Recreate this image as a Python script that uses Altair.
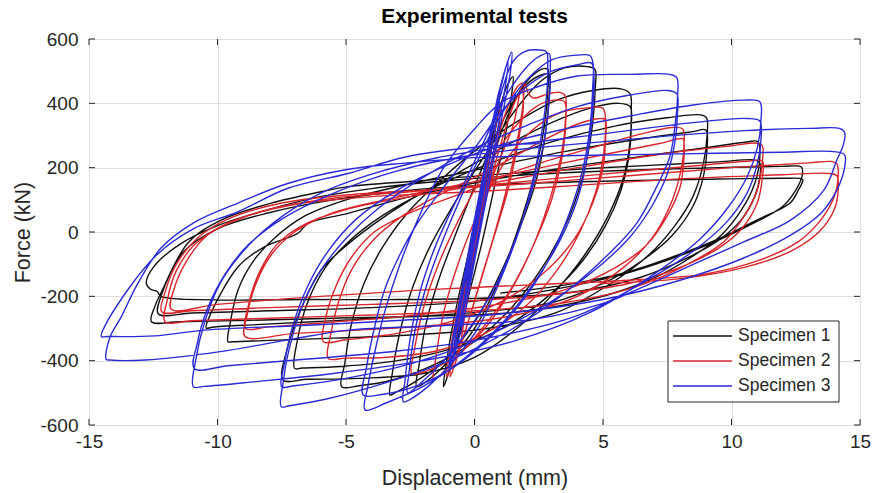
import altair as alt
import pandas as pd

FONT = "Liberation Sans, Arial, Helvetica, sans-serif"
INK = "#262626"

series_names = ["Specimen 1", "Specimen 2", "Specimen 3"]
series_colors = ["#111111", "#d9262b", "#2b2bd6"]

x_ticks = [-15, -10, -5, 0, 5, 10, 15]
y_ticks = [-600, -400, -200, 0, 200, 400, 600]

# Loading history of each specimen: (displacement mm, force kN), in test order
specimen_1 = [
    (0.0, 0), (0.2, 90), (0.45, 220), (0.5, 250), (0.4, 190), (0.1, 40), (-0.1, -60), (-0.3, -180), (-0.25, -140), (0.0, -30),
    (0.3, 120), (0.7, 320), (0.95, 410), (0.9, 360), (0.5, 190), (0.1, 20), (-0.3, -160), (-0.7, -350), (-0.65, -300), (-0.3, -130),
    # 1.5 mm
    (0.1, 50), (0.6, 260), (1.0, 390), (1.3, 460), (1.5, 483),
    (1.45, 430), (1.2, 300), (0.8, 150), (0.3, -30), (-0.3, -220), (-0.8, -380), (-1.1, -460), (-1.21, -481),
    # 2.9 mm
    (-1.1, -410), (-0.8, -270), (-0.3, -90), (0.3, 110), (1.0, 300), (1.7, 430), (2.3, 490), (2.7, 508), (2.86, 505),
    (2.85, 440), (2.7, 320), (2.3, 170), (1.7, 10), (0.9, -160), (0.0, -300), (-1.0, -400), (-1.8, -460), (-2.25, -481),
    (-2.15, -410), (-1.9, -290), (-1.4, -150), (-0.7, 0), (0.2, 180), (1.0, 330), (1.8, 440), (2.5, 485), (2.9, 490),
    (2.9, 420), (2.75, 300), (2.4, 160), (1.8, 20), (1.0, -130), (0.0, -280), (-1.2, -400), (-2.4, -470), (-3.1, -500), (-3.29, -507),
    # 4.7 mm
    (-3.2, -440), (-2.9, -310), (-2.4, -170), (-1.7, -40), (-0.7, 100), (0.5, 250), (1.6, 380), (2.6, 470), (3.5, 510), (4.4, 514), (4.69, 505),
    (4.7, 450), (4.6, 340), (4.3, 200), (3.7, 50), (2.8, -90), (1.5, -230), (0.0, -340), (-1.5, -410), (-3.2, -460), (-4.5, -478), (-5.17, -481),
    # 6.1 mm
    (-5.05, -410), (-4.8, -290), (-4.3, -160), (-3.6, -50), (-2.6, 60), (-1.2, 170), (0.3, 270), (1.8, 350), (3.2, 410), (4.6, 440), (5.7, 445), (6.05, 430),
    (6.1, 380), (6.05, 280), (5.8, 170), (5.2, 50), (4.3, -70), (3.2, -180), (1.8, -290), (0.0, -390), (-2.0, -440), (-4.5, -455), (-6.5, -458), (-7.45, -460),
    (-7.3, -367), (-6.6, -211), (-5.97, -118), (-5.19, -56), (-4.0, 20), (-2.5, 100), (-0.5, 190), (1.5, 280), (3.0, 340), (4.5, 385), (5.6, 400), (6.05, 390),
    (6.1, 330), (6.0, 230), (5.7, 130), (5.1, 20), (4.2, -90), (3.0, -190), (1.3, -290), (-0.8, -360), (-3.0, -400), (-5.2, -418), (-6.7, -423), (-7.0, -424),
    # 9 mm
    (-6.9, -340), (-6.5, -220), (-5.8, -110), (-4.9, -30), (-3.6, 50), (-1.8, 130), (0.5, 210), (3.0, 280), (5.5, 330), (7.5, 355), (8.8, 364), (9.03, 355),
    (9.05, 300), (8.9, 210), (8.5, 110), (7.8, 20), (6.8, -70), (5.3, -160), (3.2, -250), (0.5, -300), (-2.5, -320), (-5.5, -330), (-8.0, -337), (-9.4, -341), (-9.59, -341),
    (-9.5, -280), (-9.2, -180), (-8.6, -90), (-7.8, -20), (-6.6, 50), (-5.0, 100), (-2.5, 150), (0.5, 200), (3.5, 250), (6.5, 290), (8.5, 312), (9.0, 317),
    (9.05, 260), (8.9, 170), (8.5, 80), (7.7, -10), (6.5, -90), (5.0, -160), (3.0, -220), (0.0, -250), (-3.0, -265), (-6.0, -278), (-8.5, -288), (-10.2, -296), (-10.44, -299),
    # 11 mm
    (-10.37, -274), (-9.2, -108), (-8.17, -46), (-6.87, -4), (-6.48, 27), (-4.92, 58), (-2.5, 110), (0.5, 160), (3.5, 200), (6.5, 235), (9.0, 262), (10.6, 280), (11.03, 281),
    (11.1, 230), (10.9, 150), (10.4, 70), (9.6, -10), (8.4, -80), (6.8, -150), (4.5, -210), (1.5, -250), (-2.0, -262), (-5.5, -268), (-9.0, -275), (-11.5, -279), (-12.57, -279),
    (-12.44, -232), (-12.2, -190), (-11.15, -34), (-9.86, 37), (-7.9, 90), (-5.97, 125), (-4.92, 141), (-2.0, 160), (1.0, 180), (4.0, 195), (7.0, 208), (9.5, 218), (10.9, 224), (11.1, 215),
    (11.1, 170), (10.9, 110), (10.4, 40), (9.6, -20), (8.3, -80), (6.5, -140), (4.0, -185), (0.5, -205), (-3.0, -210), (-6.5, -210), (-10.0, -211), (-12.2, -200), (-12.35, -185), (-12.6, -178), (-12.77, -160),
    # 12.7 mm
    (-12.5, -110), (-11.5, -40), (-10.0, 20), (-8.0, 70), (-6.0, 110), (-4.0, 135), (-1.0, 160), (2.5, 180), (6.0, 192), (9.5, 200), (12.0, 204), (12.6, 205), (12.73, 201),
    (12.75, 175), (12.5, 130), (12.0, 80), (10.8, 25), (9.5, -25), (7.6, -85), (5.6, -135), (3.0, -180), (0.0, -215), (-4.0, -235), (-8.0, -245), (-11.0, -252), (-12.3, -255),
    (-12.2, -200), (-11.3, -60), (-10.0, 10), (-8.0, 60), (-5.5, 100), (-2.5, 130), (1.0, 148), (5.0, 158), (9.0, 164), (12.0, 167), (12.7, 166), (12.78, 162),
    (12.6, 130), (12.28, 90), (10.98, 37), (9.67, -15), (7.72, -77), (5.78, -128), (3.5, -165), (1.0, -190),
]

specimen_2 = [
    (0.0, 0), (0.25, 110), (0.5, 250), (0.45, 200), (0.2, 60), (-0.1, -80), (-0.3, -200), (-0.25, -150), (0.0, -40),
    (0.4, 150), (0.8, 320), (1.0, 380), (0.95, 330), (0.6, 180), (0.2, 20), (-0.2, -150), (-0.5, -330), (-0.45, -280), (-0.1, -110),
    # 1.9 mm
    (0.4, 120), (0.9, 290), (1.4, 410), (1.7, 455), (1.9, 463),
    (1.9, 410), (1.7, 300), (1.3, 150), (0.8, 0), (0.2, -160), (-0.4, -320), (-0.8, -420), (-0.95, -450),
    (-0.85, -380), (-0.5, -230), (0.0, -50), (0.6, 150), (1.2, 320), (1.6, 410), (1.85, 440),
    (1.9, 390), (1.7, 280), (1.3, 130), (0.7, -30), (0.1, -190), (-0.5, -340), (-0.9, -420), (-1.08, -450),
    # 3.5 mm
    (-0.95, -370), (-0.6, -220), (0.0, -20), (0.7, 170), (1.5, 330), (1.85, 455), (1.95, 462), (2.1, 430), (2.3, 416), (2.8, 428), (3.3, 434), (3.52, 425),
    (3.55, 360), (3.4, 250), (3.0, 120), (2.4, -20), (1.5, -170), (0.4, -300), (-0.8, -390), (-1.8, -430), (-2.44, -440),
    (-2.35, -370), (-2.0, -240), (-1.4, -100), (-0.6, 40), (0.5, 200), (1.5, 320), (2.4, 390), (3.1, 410), (3.5, 405),
    (3.55, 340), (3.4, 230), (3.0, 100), (2.3, -40), (1.4, -180), (0.2, -310), (-0.8, -400), (-1.4, -450), (-1.6, -460),
    # 5.1 mm
    (-1.5, -390), (-1.2, -250), (-0.6, -90), (0.2, 70), (1.2, 220), (2.3, 320), (3.3, 370), (4.3, 385), (5.0, 384),
    (5.1, 330), (5.0, 230), (4.7, 120), (4.1, 0), (3.2, -120), (2.0, -230), (0.3, -320), (-1.5, -370), (-3.5, -390), (-5.0, -392), (-5.69, -393),
    (-5.6, -320), (-5.3, -220), (-4.8, -120), (-4.0, -30), (-2.8, 50), (-1.0, 130), (1.0, 210), (2.8, 290), (4.0, 335), (4.8, 352), (5.08, 350),
    (5.1, 290), (5.0, 200), (4.6, 90), (3.9, -20), (2.8, -120), (1.2, -210), (-1.0, -280), (-3.0, -315), (-5.0, -335), (-5.88, -341),
    # 8.1 mm
    (-5.8, -270), (-5.4, -170), (-4.8, -80), (-3.9, 0), (-2.5, 60), (-0.5, 120), (2.0, 200), (4.5, 260), (6.5, 305), (7.7, 325), (8.1, 320),
    (8.15, 270), (8.0, 180), (7.6, 80), (6.9, -20), (5.8, -110), (4.0, -200), (1.5, -260), (-1.5, -290), (-4.5, -305), (-7.0, -315), (-8.93, -325),
    (-8.85, -260), (-8.5, -160), (-7.9, -70), (-7.0, 0), (-5.5, 60), (-3.5, 100), (-1.0, 140), (2.0, 190), (5.0, 240), (7.2, 275), (8.1, 290), (8.15, 280),
    (8.15, 230), (8.0, 140), (7.5, 50), (6.7, -40), (5.5, -110), (3.5, -180), (0.5, -230), (-2.5, -260), (-5.5, -280), (-8.0, -295), (-8.9, -300),
    # 11.2 mm
    (-8.8, -230), (-8.4, -130), (-7.7, -40), (-6.7, 20), (-5.0, 70), (-2.5, 110), (0.5, 150), (4.0, 200), (7.5, 245), (10.0, 268), (11.0, 276), (11.2, 268),
    (11.2, 220), (11.0, 130), (10.5, 50), (9.7, -30), (8.3, -100), (6.3, -170), (3.5, -220), (0.0, -245), (-4.0, -258), (-8.0, -268), (-11.0, -276), (-12.04, -279),
    (-11.95, -210), (-11.6, -120), (-10.9, -40), (-9.8, 20), (-8.0, 70), (-5.5, 105), (-2.5, 125), (1.0, 150), (5.0, 180), (8.5, 205), (10.6, 220), (11.2, 220),
    (11.2, 170), (11.0, 90), (10.4, 10), (9.5, -50), (8.0, -110), (6.0, -160), (3.0, -195), (-0.5, -215), (-4.0, -225), (-8.0, -235), (-11.0, -245), (-12.17, -248),
    # 14.1 mm
    (-12.05, -190), (-11.6, -100), (-10.8, -20), (-9.6, 40), (-7.5, 90), (-5.0, 115), (-2.0, 130), (2.0, 150), (6.0, 175), (10.0, 200), (13.0, 215), (13.9, 219), (14.1, 212),
    (14.15, 170), (14.0, 110), (13.5, 40), (12.6, -30), (11.0, -90), (9.0, -130), (6.0, -150), (2.0, -165), (-2.0, -180), (-6.0, -200), (-10.0, -225), (-11.8, -240),
    (-11.7, -180), (-11.2, -90), (-10.4, -10), (-9.0, 45), (-7.0, 85), (-4.0, 110), (0.0, 125), (4.0, 145), (8.0, 165), (12.0, 178), (13.8, 182), (14.1, 175),
    (14.15, 130), (14.0, 70), (13.4, 0), (12.3, -60), (10.5, -110), (8.0, -145), (5.0, -160),
]

specimen_3 = [
    (0.0, 0), (0.15, 60), (0.3, 150), (0.4, 200), (0.35, 140), (0.1, 20), (-0.1, -60), (-0.3, -150), (-0.25, -100), (0.0, -20),
    (0.2, 80), (0.45, 230), (0.7, 350), (0.65, 300), (0.4, 180), (0.1, 40), (-0.2, -100), (-0.5, -290), (-0.45, -250), (-0.2, -130),
    (0.1, 20), (0.5, 230), (0.8, 380), (1.0, 450), (0.95, 400), (0.6, 230), (0.3, 100), (-0.1, -80), (-0.5, -250), (-0.8, -380), (-0.75, -330), (-0.4, -170),
    (0.0, 10), (0.5, 250), (1.0, 440), (1.3, 530), (1.25, 480), (0.9, 320), (0.5, 150), (0.0, -70), (-0.5, -270), (-0.95, -410), (-0.9, -370), (-0.5, -200),
    (0.1, 60), (0.6, 300), (1.1, 480), (1.45, 560), (1.4, 500), (1.0, 330), (0.5, 120), (0.0, -90), (-0.5, -300), (-1.0, -430),
    # 2.8 mm
    (-0.9, -360), (-0.5, -180), (0.0, 40), (0.5, 240), (1.0, 420), (1.5, 530), (2.0, 562), (2.5, 566), (2.8, 560),
    (2.85, 520), (2.8, 420), (2.6, 300), (2.3, 170), (1.8, 20), (1.0, -150), (0.2, -290), (-0.8, -400), (-1.8, -480), (-2.5, -520), (-2.77, -528),
    (-2.7, -460), (-2.5, -330), (-2.1, -180), (-1.5, -40), (-0.7, 100), (0.3, 270), (1.2, 420), (2.0, 510), (2.5, 545), (2.9, 555),
    (2.95, 510), (2.9, 400), (2.7, 280), (2.3, 150), (1.7, 0), (0.8, -170), (-0.2, -300), (-1.2, -400), (-2.1, -470), (-2.6, -500),
    # 4.6 mm
    (-2.55, -440), (-2.3, -300), (-1.8, -150), (-1.0, 20), (0.0, 200), (1.0, 360), (2.0, 470), (3.0, 535), (4.0, 550), (4.5, 548), (4.62, 520),
    (4.6, 450), (4.5, 330), (4.2, 190), (3.7, 60), (3.0, -70), (2.0, -200), (0.7, -320), (-0.8, -420), (-2.3, -480), (-3.6, -505), (-4.33, -507),
    (-4.2, -420), (-3.9, -300), (-3.5, -180), (-2.9, -70), (-2.2, 30), (-1.0, 160), (0.0, 260), (1.0, 370), (2.0, 450), (3.0, 500), (4.0, 520), (4.55, 525),
    (4.65, 480), (4.6, 380), (4.4, 240), (4.0, 100), (3.3, -30), (2.3, -160), (1.0, -290), (-0.5, -400), (-2.0, -480), (-3.4, -530), (-4.26, -553),
    # 7.9 mm
    (-4.15, -480), (-3.9, -380), (-3.5, -250), (-2.9, -100), (-2.2, 40), (-1.2, 200), (0.0, 320), (1.0, 400), (2.4, 450), (4.0, 485), (6.0, 490), (7.6, 490), (7.87, 480),
    (7.9, 420), (7.8, 330), (7.6, 234), (7.09, 141), (6.31, 27), (5.2, -70), (3.5, -190), (1.5, -300), (-1.0, -400), (-3.5, -470), (-5.8, -520), (-7.2, -540), (-7.52, -543),
    (-7.45, -470), (-7.2, -360), (-6.6, -210), (-5.9, -110), (-5.0, -20), (-3.8, 70), (-2.0, 170), (0.0, 260), (2.0, 330), (4.0, 390), (6.0, 425), (7.5, 440), (7.87, 430),
    (7.9, 370), (7.8, 280), (7.5, 180), (6.9, 80), (6.0, -20), (4.5, -130), (2.5, -240), (0.0, -340), (-2.5, -410), (-5.0, -455), (-7.0, -478), (-7.5, -481),
    # 11.1 mm
    (-7.4, -410), (-7.1, -300), (-6.5, -170), (-5.7, -60), (-4.6, 40), (-3.0, 130), (-1.0, 210), (1.0, 270), (3.5, 320), (6.0, 360), (8.5, 395), (10.5, 410), (11.1, 405),
    (11.15, 350), (11.0, 260), (10.6, 170), (9.9, 80), (8.8, -20), (7.0, -130), (4.5, -250), (1.5, -340), (-2.0, -400), (-5.5, -440), (-8.5, -465), (-10.5, -480), (-10.94, -481),
    (-10.85, -400), (-10.5, -280), (-9.9, -160), (-9.0, -60), (-7.8, 30), (-6.0, 120), (-4.0, 180), (-1.5, 230), (1.5, 270), (5.0, 305), (8.5, 340), (10.6, 353), (11.1, 345),
    (11.15, 290), (11.0, 210), (10.6, 120), (9.8, 30), (8.5, -60), (6.5, -160), (4.0, -260), (0.5, -330), (-3.0, -370), (-6.5, -395), (-9.5, -415), (-10.9, -424),
    # 14.4 mm
    (-10.8, -350), (-10.4, -240), (-9.7, -130), (-8.8, -40), (-7.5, 40), (-5.5, 120), (-3.0, 190), (0.0, 240), (3.5, 270), (7.0, 295), (10.5, 315), (13.0, 322), (14.2, 322), (14.4, 310),
    (14.35, 270), (14.1, 224), (13.6, 131), (12.3, 37), (10.5, -30), (8.9, -87), (6.3, -180), (5.0, -222), (2.4, -270), (-1.0, -290), (-4.9, -305), (-7.3, -336), (-9.9, -372), (-12.8, -398), (-14.2, -398), (-14.33, -396),
    (-14.2, -330), (-13.74, -263), (-13.1, -160), (-12.2, -50), (-10.9, 30), (-9.2, 90), (-7.3, 150), (-4.9, 195), (-2.6, 215), (0.2, 232), (4.0, 238), (8.0, 243), (12.0, 248), (14.0, 250), (14.4, 240),
    (14.4, 200), (14.1, 130), (13.5, 60), (12.3, -10), (10.5, -80), (8.0, -150), (5.0, -210), (1.0, -255), (-3.0, -275), (-6.5, -290), (-10.5, -305), (-12.44, -323), (-14.3, -325), (-14.52, -325),
    (-14.26, -274), (-12.44, -77), (-10.89, 12), (-9.2, 63), (-7.26, 136), (-4.92, 182), (-2.64, 234), (0.2, 265), (2.5, 275),
]

records = []
for name, path in zip(series_names, [specimen_1, specimen_2, specimen_3]):
    for step, (disp, force) in enumerate(path):
        records.append({"specimen": name, "step": step, "disp": disp, "force": force})
loops_df = pd.DataFrame(records)

W, H = 771, 386
x_scale = alt.Scale(domain=[-15, 15], nice=False, zero=False)
y_scale = alt.Scale(domain=[-600, 600], nice=False, zero=False)

# plain hyphen for negative tick labels
hyphen_labels = "datum.value < 0 ? '-' + abs(datum.value) : '' + datum.value"

axis_common = dict(
    grid=True, gridColor="#dedede", gridWidth=1, ticks=False, domain=False,
    labelFont=FONT, labelFontSize=19, labelColor=INK, labelFlush=False, labelOverlap=False,
    labelExpr=hyphen_labels,
    titleFont=FONT, titleFontSize=21.5, titleFontWeight="normal", titleColor=INK,
)
x_axis = alt.Axis(values=x_ticks, title="Displacement (mm)", labelPadding=7,
                  titleX=W / 2, titleY=59, titleAlign="center", titleBaseline="alphabetic",
                  **axis_common)
y_axis = alt.Axis(values=y_ticks, title="Force (kN)", labelPadding=11,
                  titleX=-60, titleY=H / 2, titleAngle=270, titleAlign="center",
                  titleBaseline="alphabetic", **axis_common)

x_enc = alt.X("disp:Q", scale=x_scale, axis=x_axis)
y_enc = alt.Y("force:Q", scale=y_scale, axis=y_axis)

loops = alt.Chart(loops_df).mark_line(
    strokeWidth=1.4, interpolate="catmull-rom", clip=True
).encode(
    x=x_enc,
    y=y_enc,
    color=alt.Color("specimen:N", scale=alt.Scale(domain=series_names, range=series_colors), legend=None),
    order=alt.Order("step:Q"),
)

# inward tick marks on all four sides of the box
xt = pd.DataFrame({"disp": x_ticks})
yt = pd.DataFrame({"force": y_ticks})
tick_len = 6
bottom_ticks = alt.Chart(xt).mark_rule(color=INK, strokeWidth=1).encode(
    x=x_enc, y=alt.value(H), y2=alt.value(H - tick_len))
top_ticks = alt.Chart(xt).mark_rule(color=INK, strokeWidth=1).encode(
    x=x_enc, y=alt.value(0), y2=alt.value(tick_len))
left_ticks = alt.Chart(yt).mark_rule(color=INK, strokeWidth=1).encode(
    y=y_enc, x=alt.value(0), x2=alt.value(tick_len))
right_ticks = alt.Chart(yt).mark_rule(color=INK, strokeWidth=1).encode(
    y=y_enc, x=alt.value(W), x2=alt.value(W - tick_len))

one = pd.DataFrame({"k": [0]})

# chart title above the box
title_text = alt.Chart(one).mark_text(
    text="Experimental tests", align="center", baseline="alphabetic",
    font=FONT, fontSize=21, fontWeight="bold", color="#000000",
).encode(x=alt.value(W / 2), y=alt.value(-16))

# legend box in the lower right corner
legend_layers = [
    alt.Chart(one).mark_rect(fill="white", stroke=INK, strokeWidth=1).encode(
        x=alt.value(579), x2=alt.value(750), y=alt.value(282), y2=alt.value(363))
]
for i, (name, color) in enumerate(zip(series_names, series_colors)):
    row_y = 297 + 25 * i
    legend_layers.append(
        alt.Chart(one).mark_rule(color=color, strokeWidth=1.4).encode(
            x=alt.value(584), x2=alt.value(643), y=alt.value(row_y)))
    legend_layers.append(
        alt.Chart(one).mark_text(text=name, align="left", baseline="middle",
                                 font=FONT, fontSize=17.5, color=INK).encode(
            x=alt.value(649), y=alt.value(row_y)))

chart = alt.layer(
    loops, bottom_ticks, top_ticks, left_ticks, right_ticks, title_text, *legend_layers
).properties(
    width=W, height=H,
    autosize=alt.AutoSizeParams(type="none"),
    padding={"left": 89, "top": 39, "right": 14, "bottom": 68},
).configure_view(stroke=INK, strokeWidth=1)

chart.save("out.html", embed_options={"renderer": "svg", "actions": False})
